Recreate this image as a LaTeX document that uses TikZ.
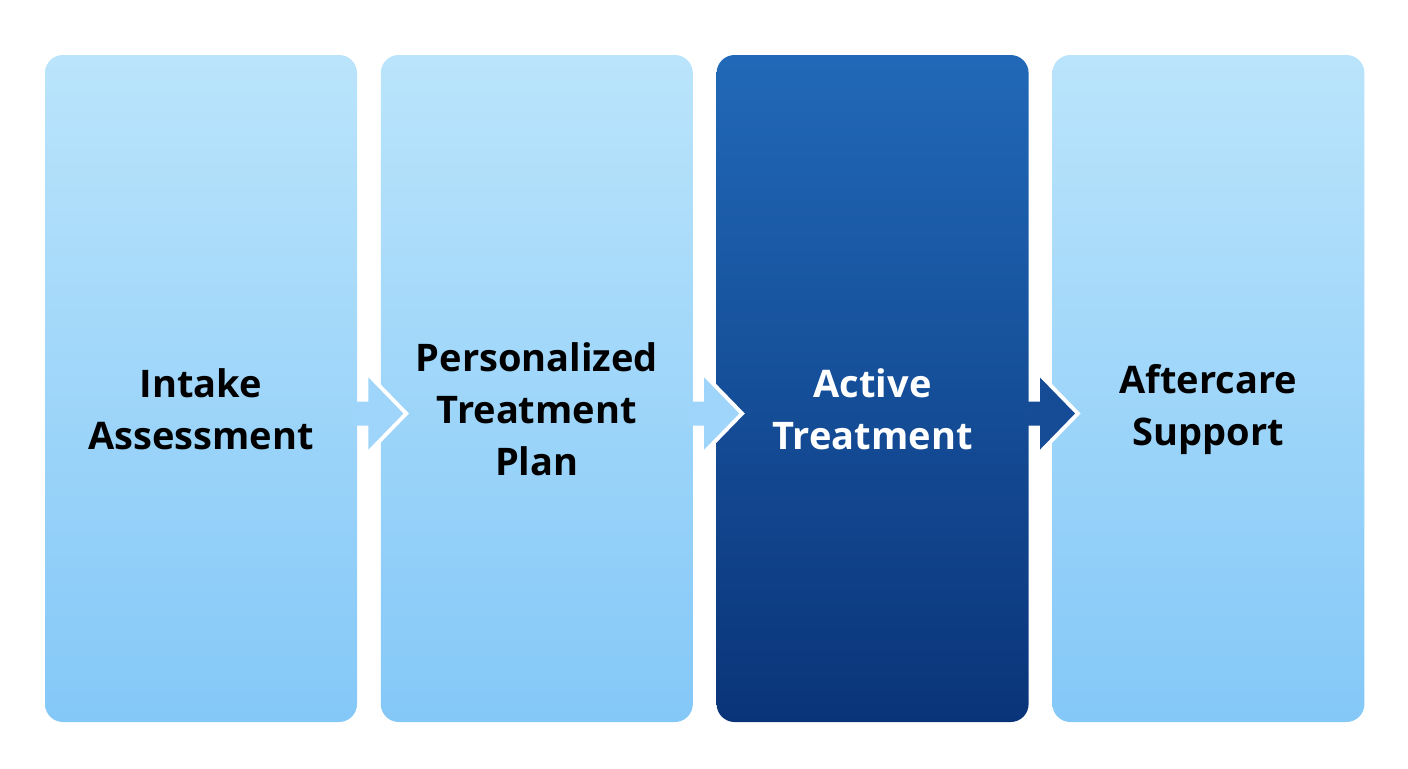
\documentclass[tikz,border=0pt]{standalone}
\usepackage{fontspec}
\setmainfont{Open Sans}
\usetikzlibrary{positioning,calc}
\definecolor{lighttop}{HTML}{BAE4FB}
\definecolor{lightbot}{HTML}{84C8F8}
\definecolor{lightmid}{HTML}{9FD5FA}
\definecolor{darktop}{HTML}{2169B8}
\definecolor{darkbot}{HTML}{0A3479}
\definecolor{darkmid}{HTML}{164B96}
\tikzset{
  phase/.style={rounded corners=9pt, minimum width=156pt, minimum height=333.5pt, inner sep=0pt,
    shading=axis, top color=lighttop, bottom color=lightbot, draw=none},
  active/.style={phase, top color=darktop, bottom color=darkbot},
  phasetext/.style={font=\fontsize{19}{26}\selectfont\bfseries, align=center, text=black},
}
\begin{document}
\begin{tikzpicture}[x=1pt,y=1pt]
    \useasboundingbox[fill=white] (0,0) rectangle (704,-384);
    \node[phase] (intake) at (100.5,-194.25) {};
    \node[phase, right=11.5pt of intake] (plan) {};
    \node[active, right=11.5pt of plan] (treat) {};
    \node[phase, right=11.5pt of treat] (after) {};
    % labels
    \node[phasetext] at ($(intake.center)+(0,-10.5)$) {Intake\\Assessment};
    \node[phasetext] at ($(plan.center)+(0,-10.5)$) {Personalized\\Treatment\\Plan};
    \node[phasetext, text=white] at ($(treat.center)+(0,-10.5)$) {Active\\Treatment};
    \node[phasetext] at ($(after.center)+(0,-10.5)$) {Aftercare\\Support};
    % chevrons
    \foreach \from/\col in {intake/lightmid, plan/lightmid, treat/darkmid}{
        \coordinate (e) at ($(\from.east)+(0,-12.5)$);
        \draw[white, line width=4pt, line join=miter]
            ($(e)+(0,6)$) -- ++(5.5,0) -- ++(0,12) -- ($(e)+(23,0)$) -- ($(e)+(5.5,-18)$) -- ++(0,12) -- ($(e)+(0,-6)$);
        \fill[\col] ($(e)+(-2,6)$) -- ++(7.5,0) -- ++(0,12) -- ($(e)+(23,0)$) -- ($(e)+(5.5,-18)$) -- ++(0,12) -- ($(e)+(-2,-6)$) -- cycle;
    }
\end{tikzpicture}
\end{document}
